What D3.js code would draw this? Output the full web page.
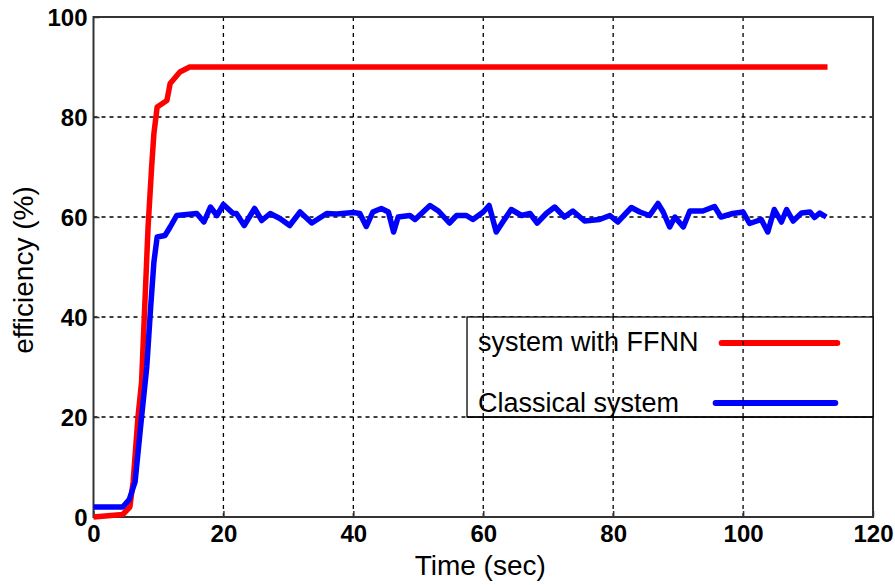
<!DOCTYPE html>
<head>
<meta charset="utf-8">
<style>
    body { margin: 0; background: #fff; }
    text { font-family: "Liberation Sans", Arial, sans-serif; fill: #000; }
</style>
</head>
<body>
    <script src="https://d3js.org/d3.v7.min.js"></script>
    <script>

    ///////////////////////////
    ////////// DATA ///////////
    ///////////////////////////

    const xTicks = [0, 20, 40, 60, 80, 100, 120];
    const yTicks = [0, 20, 40, 60, 80, 100];

    const ffnnTime = [0, 4.5, 5.6, 6.1, 6.85, 7.4, 8.4, 8.95, 9.3, 9.8, 11.3, 11.8, 13.3, 14.8, 113];
    const ffnnEff  = [0, 0.5, 2, 7, 20, 27, 58, 70, 76.7, 82, 83.3, 86.7, 89, 90, 90];

    const classicTime = [0, 4.5, 5.5, 6.4, 7.4, 8.2, 8.8, 9.3, 9.8, 11, 11.8, 12.8, 15.9, 17, 18, 19, 20,
        21.5, 22, 23.2, 24.8, 25.9, 27.2, 28.7, 30.2, 31.8, 33.6, 35.9, 37.4, 40, 41, 42, 43, 44.3,
        45.4, 46.2, 46.9, 48.7, 49.5, 51.8, 53.1, 54.8, 55.9, 57.4, 58.4, 60, 60.9, 62, 63, 64.3,
        65.9, 67.2, 68.3, 69.7, 71, 72.5, 73.8, 75.6, 77.9, 79.5, 80.7, 82.8, 84.1, 85.6, 86.9,
        87.7, 88.7, 89.5, 90.8, 91.8, 93.8, 95.6, 96.6, 98.4, 100, 101, 102.8, 103.8, 104.8, 105.9,
        106.7, 107.7, 109, 110.3, 111, 111.8, 112.8];
    const classicEff = [2, 2, 3.5, 7, 20, 30, 42, 51, 56, 56.3, 58, 60.3, 60.7, 59, 62, 60.3, 62.5,
        60.7, 60.7, 58.3, 61.7, 59.3, 60.7, 59.7, 58.3, 61, 58.8, 60.7, 60.6, 60.9, 60.7, 58.1, 61, 61.7,
        61, 57, 60, 60.3, 59.5, 62.3, 61.2, 58.8, 60.3, 60.3, 59.5, 61, 62.3, 57, 59, 61.5,
        60.3, 60.7, 58.8, 60.7, 62, 60, 61.2, 59.2, 59.5, 60.3, 59, 61.9, 61, 60.3, 62.7,
        61, 58, 60, 58, 61.2, 61.2, 62.1, 60, 60.7, 61, 58.7, 59.5, 57, 61.5, 59,
        61.5, 59.2, 60.8, 61, 59.9, 60.8, 60];

    const seriesNames = ['system with FFNN', 'Classical system'];
    const seriesColors = ['#ff0000', '#0000ff'];

    ///////////////////////////
    ////////// SETUP //////////
    ///////////////////////////

    const W = 895, H = 585;
    const margin = { top: 17, right: 22, bottom: 68, left: 93.5 };
    const width = W - margin.left - margin.right;
    const height = H - margin.top - margin.bottom;

    const svg = d3.select('body').append('svg')
        .attr('width', W)
        .attr('height', H);
    const g = svg.append('g')
        .attr('transform', `translate(${margin.left},${margin.top})`);

    const x = d3.scaleLinear().domain([0, 120]).range([0, width]);
    const y = d3.scaleLinear().domain([0, 100]).range([height, 0]);

    //////////////////////////
    ////////// GRID //////////
    //////////////////////////

    g.append('g').selectAll('line').data(xTicks.slice(1, -1)).join('line')
        .attr('x1', d => x(d)).attr('x2', d => x(d))
        .attr('y1', 0).attr('y2', height)
        .attr('stroke', '#000').attr('stroke-width', 1.3)
        .attr('stroke-dasharray', '4,4');
    g.append('g').selectAll('line').data(yTicks.slice(1, -1)).join('line')
        .attr('x1', 0).attr('x2', width)
        .attr('y1', d => y(d)).attr('y2', d => y(d))
        .attr('stroke', '#000').attr('stroke-width', 1.3)
        .attr('stroke-dasharray', '4,4');

    //////////////////////////
    ////////// AXES //////////
    //////////////////////////

    const xAxis = g.append('g')
        .attr('transform', `translate(0,${height})`)
        .call(d3.axisBottom(x).tickValues(xTicks).tickSize(-6).tickPadding(12));
    const yAxis = g.append('g')
        .call(d3.axisLeft(y).tickValues(yTicks).tickSize(-6).tickPadding(6));
    [xAxis, yAxis].forEach(a => {
        a.select('.domain').remove();
        a.selectAll('line').attr('stroke', '#333').attr('stroke-width', 1.5);
        a.selectAll('text')
            .style('font-family', '"Liberation Sans", Arial, sans-serif')
            .style('font-size', '24px')
            .style('font-weight', 'bold')
            .attr('fill', '#000');
    });
    xAxis.selectAll('text').attr('dy', '0.55em');
    yAxis.selectAll('text').attr('dy', '0.36em');

    g.append('rect')
        .attr('width', width).attr('height', height)
        .attr('fill', 'none').attr('stroke', '#333').attr('stroke-width', 2);

    svg.append('text')
        .attr('x', margin.left + width / 2 - 3).attr('y', 575)
        .attr('text-anchor', 'middle')
        .style('font-size', '28px')
        .text('Time (sec)');
    svg.append('text')
        .attr('transform', `translate(33,270) rotate(-90)`)
        .attr('text-anchor', 'middle')
        .style('font-size', '28px')
        .text('efficiency (%)');

    //////////////////////////
    ////////// LINES /////////
    //////////////////////////

    const line = d3.line()
        .x(d => x(d[0]))
        .y(d => y(d[1]));

    const series = [
        d3.zip(ffnnTime, ffnnEff),
        d3.zip(classicTime, classicEff)
    ];

    g.selectAll('.series').data(series).join('path')
        .attr('class', 'series')
        .attr('d', line)
        .attr('fill', 'none')
        .attr('stroke', (d, i) => seriesColors[i])
        .attr('stroke-width', 5.5)
        .attr('stroke-linejoin', 'round');

    //////////////////////////
    ////////// LEGEND ////////
    //////////////////////////

    const lg = g.append('g');
    const lx0 = x(57.5), ly0 = y(40), ly1 = y(20);
    lg.append('rect')
        .attr('x', lx0).attr('y', ly0)
        .attr('width', width - lx0).attr('height', ly1 - ly0)
        .attr('fill', '#fff').attr('stroke', '#000').attr('stroke-width', 1.3);

    const rowLine = [y(34.8), y(22.8)];
    const rowText = [y(33.3), y(21)];
    rowLine.forEach((ry, i) => {
        lg.append('text')
            .attr('x', lx0 + 11).attr('y', rowText[i])
            .style('font-size', '27px')
            .text(seriesNames[i]);
        lg.append('line')
            .attr('x1', x(96.7) - (i ? 6 : 0)).attr('x2', x(114.5) - (i ? 2 : 0))
            .attr('y1', ry).attr('y2', ry)
            .attr('stroke', seriesColors[i])
            .attr('stroke-width', 6)
            .attr('stroke-linecap', 'round');
    });
    // gridlines show through the legend box in the reference
    lg.selectAll('.lgrid').data(xTicks.slice(1, -1).filter(d => x(d) > lx0)).join('line')
        .attr('x1', d => x(d)).attr('x2', d => x(d))
        .attr('y1', ly0).attr('y2', ly1)
        .attr('stroke', '#000').attr('stroke-width', 1.3)
        .attr('stroke-dasharray', '4,4');
    lg.append('line')
        .attr('x1', lx0).attr('x2', width)
        .attr('y1', ly1).attr('y2', ly1)
        .attr('stroke', '#000').attr('stroke-width', 1.3);

    </script>
</body>
